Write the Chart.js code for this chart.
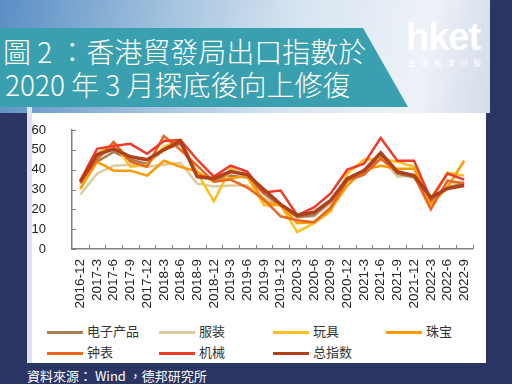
<!DOCTYPE html>
<html>
<head>
<meta charset="utf-8">
<script src="https://cdn.jsdelivr.net/npm/chart.js@4"></script>
<style>
  body { margin: 0; width: 512px; height: 384px; overflow: hidden; position: relative;
         background: #2b3563; font-family: "Liberation Sans", Arial, sans-serif; }
  #top { position: absolute; left: 0; top: 0; width: 490px; height: 113px;
         background: linear-gradient(100deg, #5a8ec4 0%, #a6c5e0 35%, #d8e5f1 60%, #eef2f8 85%, #d3dbea 100%); }
  #strip { position: absolute; left: 27px; top: 107px; width: 5px; height: 256px; background: #dfe2ee; }
  #banner { position: absolute; left: 0; top: 28px; width: 410px; height: 79px; background: #3a9fae;
            clip-path: polygon(0 0, 363px 0, 408px 79px, 0 79px); }
  .title { position: absolute; left: 3px; color: #fff; font-family: "Noto Sans CJK TC", sans-serif;
           font-weight: 300; font-size: 28px; line-height: 30px; white-space: nowrap; }
  #logo { position: absolute; left: 406px; top: 16px; color: #fff; font-family: "Liberation Sans", Arial, sans-serif;
          font-weight: bold; font-size: 38px; letter-spacing: -1px; }
  #logo2 { position: absolute; left: 408px; top: 57px; color: #fff; font-family: "Noto Sans CJK TC", sans-serif;
           font-size: 8px; letter-spacing: 5px; }
  #panel { position: absolute; left: 32px; top: 113px; width: 454px; height: 250px; background: #fff; }
  canvas { position: absolute; left: 0; top: 0; }
  #legend { position: absolute; left: 0; top: 0; }
  .item { position: absolute; height: 16px; font-family: "Noto Sans CJK SC", sans-serif; font-size: 13px;
          color: #333; white-space: nowrap; line-height: 16px; }
  .item span { display: inline-block; width: 36px; height: 3px; vertical-align: middle; margin-right: 4px; }
  #source { position: absolute; left: 27px; top: 366px; color: #fff; font-family: "Noto Sans CJK TC", sans-serif;
            font-size: 13px; white-space: nowrap; }
</style>
</head>
<body>
<div id="top"></div>
<div id="strip"></div>
<div id="banner"></div>
<div class="title" style="top:36px">圖 2 ：香港貿發局出口指數於</div>
<div class="title" style="top:69px;left:5px">2020 年 3 月探底後向上修復</div>
<div id="logo">hket</div>
<div id="logo2">香港經濟日報</div>
<div id="panel"></div>
<canvas id="chart" width="512" height="320"></canvas>
<div id="legend"></div>
<div id="source">資料來源： Wind ，德邦研究所</div>
<script>
// quarterly labels
const labels = ['2016-12','2017-3','2017-6','2017-9','2017-12','2018-3','2018-6','2018-9','2018-12',
  '2019-3','2019-6','2019-9','2019-12','2020-3','2020-6','2020-9','2020-12','2021-3','2021-6',
  '2021-9','2021-12','2022-3','2022-6','2022-9'];

const seriesNames = ['电子产品', '服装', '玩具', '珠宝', '钟表', '机械', '总指数'];

const electronics = [33, 44, 49, 45, 43, 50, 53, 38, 35, 37, 36, 28, 22, 16, 17, 24, 35, 38, 47, 38, 36, 24, 31, 33];
const clothing    = [27.5, 38, 42, 42.5, 41.5, 42.5, 43.5, 33, 31.5, 32, 32, 26, 22, 16, 16.5, 23, 34, 38, 46, 36.5, 37, 23, 33, 34];
const toys        = [30, 48, 53, 41.5, 42.5, 51.5, 55, 38.5, 24, 40.5, 36.5, 22, 22, 8.5, 13, 19, 38, 45, 45.5, 44, 41.5, 25.5, 38.5, 37];
const jewellery   = [30.5, 44, 39.5, 39.5, 37, 44.5, 41.5, 39, 34, 35.5, 37, 24, 22, 13, 13.5, 20, 32, 40, 42, 40.5, 40.5, 22.5, 31, 44.5];
const watches     = [33.5, 45, 54, 44, 41.5, 57, 50, 42, 34, 35, 31, 25, 16.5, 14.5, 13.5, 21, 34.5, 37.5, 45.5, 39, 37, 20, 34.5, 33];
const machinery   = [34.5, 50.5, 52, 53, 48, 54.5, 55, 45, 36.5, 42, 39, 28.5, 29.5, 17, 21, 28, 40, 43, 56, 44.5, 44.5, 25, 38, 35];
const overall     = [34, 47.5, 50.5, 46.5, 45, 50, 54.5, 36.5, 35.5, 39, 37.5, 30, 22.5, 17, 18.5, 24.5, 35.5, 39.5, 48.5, 39, 37, 26, 30.5, 32];

const yTicks = [0, 10, 20, 30, 40, 50, 60];

const allData = [electronics, clothing, toys, jewellery, watches, machinery, overall];
const colors = ['#a87f55', '#dccba0', '#ffbf1f', '#ff9a00', '#e8661e', '#f03a2a', '#b0401a'];
const widths = [2.5, 2.5, 2.5, 2.5, 2.5, 2.5, 3.5];
const drawOrder = [5, 6, 4, 3, 2, 1, 0]; // lower = on top

const datasets = seriesNames.map((name, i) => ({
    label: name,
    data: allData[i],
    borderColor: colors[i],
    backgroundColor: colors[i],
    borderWidth: widths[i],
    pointRadius: 0,
    tension: 0,
    order: drawOrder[i]
}));

// small inward tick marks like the original
const innerTicks = {
    id: 'innerTicks',
    afterDraw(chart) {
        const c = chart.ctx, x = chart.scales.x, y = chart.scales.y;
        c.save();
        c.strokeStyle = '#808080';
        c.lineWidth = 1;
        yTicks.forEach(v => {
            const py = Math.round(y.getPixelForValue(v)) + 0.5;
            c.beginPath(); c.moveTo(x.left, py); c.lineTo(x.left + 4, py); c.stroke();
        });
        const half = (x.getPixelForValue(1) - x.getPixelForValue(0)) / 2;
        labels.forEach((l, i) => {
            const px = Math.round(x.getPixelForValue(i) + half) + 0.5;
            c.beginPath(); c.moveTo(px, y.bottom); c.lineTo(px, y.bottom - 4); c.stroke();
        });
        c.restore();
    }
};

new Chart(document.getElementById('chart').getContext('2d'), {
    type: 'line',
    data: { labels: labels, datasets: datasets },
    plugins: [innerTicks],
    options: {
        responsive: false,
        animation: false,
        layout: { padding: { left: 0, right: 39.5, top: 130, bottom: 0 } },
        plugins: { legend: { display: false }, tooltip: { enabled: false } },
        scales: {
            x: {
                offset: true,
                grid: { display: false, drawTicks: false },
                border: { display: true, color: '#808080', width: 1.5 },
                ticks: { autoSkip: false, minRotation: 90, maxRotation: 90, padding: 10,
                         color: '#222', font: { family: 'Liberation Sans', size: 13.5 } },
                afterFit(scale) { scale.height = 71; }
            },
            y: {
                min: 0, max: 60,
                grid: { display: false, drawTicks: false },
                border: { display: true, color: '#808080', width: 1.5 },
                ticks: { stepSize: 10, padding: 26, color: '#222',
                         font: { family: 'Liberation Sans', size: 13 } },
                afterFit(scale) { scale.width = 72; }
            }
        }
    }
});

// legend built from the series
const legendPos = [[47, 323], [159, 323], [273, 323], [386, 323], [47, 344], [159, 344], [273, 344]];
const legend = document.getElementById('legend');
seriesNames.forEach((name, i) => {
    const d = document.createElement('div');
    d.className = 'item';
    d.style.left = legendPos[i][0] + 'px';
    d.style.top = legendPos[i][1] + 'px';
    d.innerHTML = '<span style="background:' + colors[i] + '"></span>' + name;
    legend.appendChild(d);
});
</script>
</body>
</html>
